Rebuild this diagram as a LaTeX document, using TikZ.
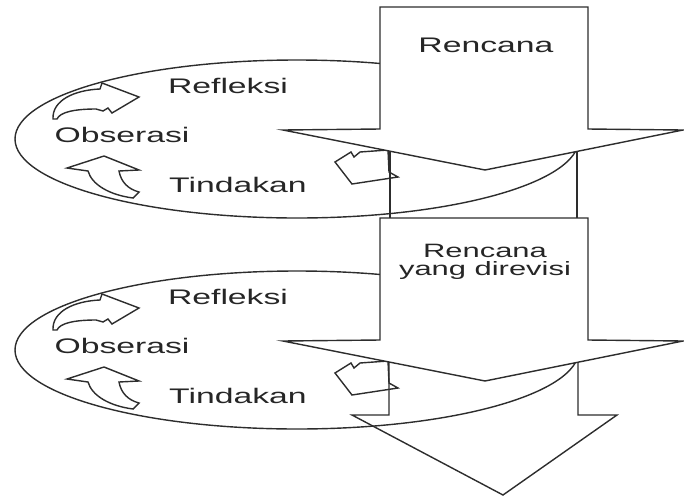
\documentclass[tikz,border=0pt]{standalone}
\usepackage{fontspec}
\newfontfamily\cyclefont[FakeStretch=1.6]{Liberation Sans}
\definecolor{linegray}{RGB}{45,45,45}
\tikzset{
	outline/.style={draw=linegray, line width=0.8pt, line join=miter},
	blockarrow/.style={outline, fill=white},
	cycletext/.style={font=\cyclefont\fontsize{12}{14}\selectfont, text=black!85, anchor=base, inner sep=0pt},
	plantext/.style={font=\cyclefont\fontsize{11}{12}\selectfont, text=black!85, anchor=base, inner sep=0pt}
}

\begin{document}
\begin{tikzpicture}[x=0.02cm, y=-0.02cm]
	\useasboundingbox (0,0) rectangle (684,498);
	% shafts between the big arrows
	\draw[outline] (390,130) -- (390,218);
	\draw[outline] (577,130) -- (577,218);
	\draw[outline] (389,341) -- (389,415) -- (352,415) -- (503,495) -- (617,415) -- (578,415) -- (578,341);

	% two cycles
	\foreach \s/\n in {0/1,211/2} {
		\begin{scope}[shift={(0,\s)}]
			\draw[outline] (297,139) ellipse [x radius=282, y radius=79];
			% reflect -> observe
			\draw[blockarrow] (53,119) .. controls (52,100) and (75,90) .. (100,89) -- (102,83) -- (139,97)
				-- (112,113) -- (108,108) -- (103,111) -- (96,109) .. controls (75,109) and (60,112) .. (57,119) -- cycle;
			% act -> observe
			\draw[blockarrow] (67,168) -- (104,156) -- (139,170) -- (119,171) .. controls (121,182) and (128,189) .. (139,192)
				-- (133,198) .. controls (110,195) and (92,185) .. (88,171) -- cycle;
			% plan -> act
			\draw[outline] (335,162) -- (351,152) -- (354,157) -- (360,152) -- (388,150) -- (389,172) -- (398,177) -- (352,184) -- cycle;
			% plan
			\draw[blockarrow] (380,7) -- (588,7) -- (588,129) -- (683,130) -- (485,170) -- (283,130) -- (380,129) -- cycle;
			\node[cycletext] (refl\n) at (228,93) {Refleksi};
			\node[cycletext] (obs\n) at (122,142) {Obserasi};
			\node[cycletext] (act\n) at (238,192) {Tindakan};
		\end{scope}
	}
	\node[cycletext] (plan1) at (486,52) {Rencana};
	\node[plantext] (plan2a) at (485,257) {Rencana};
	\node[plantext] (plan2b) at (485,275) {yang direvisi};
\end{tikzpicture}
\end{document}
